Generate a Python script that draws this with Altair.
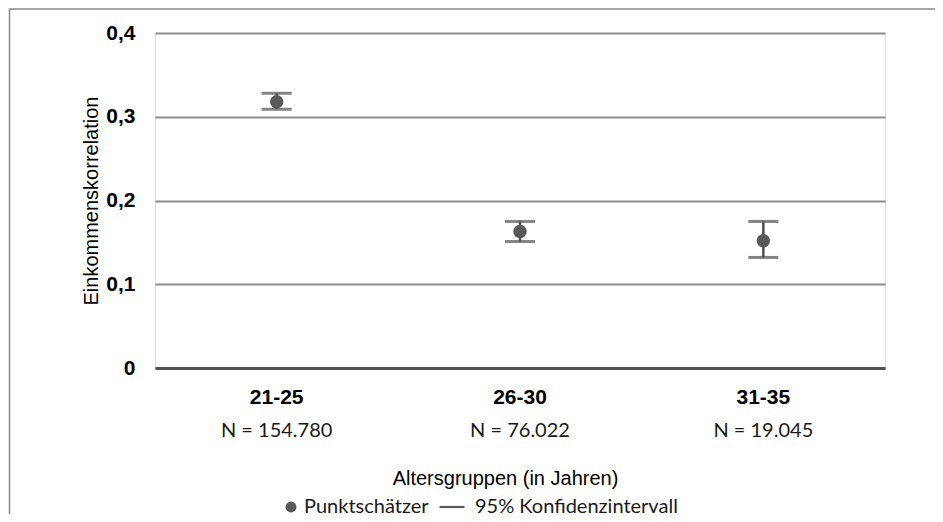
import altair as alt
import pandas as pd

groups = ["21-25", "26-30", "31-35"]
n_labels = ["N = 154.780", "N = 76.022", "N = 19.045"]
estimate = [0.318, 0.163, 0.152]
ci_low = [0.309, 0.151, 0.132]
ci_high = [0.328, 0.175, 0.175]
legend_names = ["Punktschätzer", "95% Konfidenzintervall"]

df = pd.DataFrame({"group": groups, "n": n_labels, "est": estimate,
                   "lo": ci_low, "hi": ci_high,
                   "series": [legend_names[0]] * len(groups)})

FONT = "Lato"
DARK = "#595959"
TXT = "#1a1a1a"
FS = 20

x = alt.X("group:N", sort=groups,
          scale=alt.Scale(paddingInner=0, paddingOuter=0),
          axis=alt.Axis(title="Altersgruppen (in Jahren)", labelAngle=0,
                        labelFontWeight="bold", labelFontSize=21,
                        labelPadding=18, ticks=False, domainColor="#505050",
                        domainWidth=3, titleFontSize=FS,
                        titleFontWeight="normal", titlePadding=61,
                        titleX=350, titleAlign="center"))
yscale = alt.Scale(domain=[0, 0.4], nice=False)
yaxis = alt.Axis(title="Einkommenskorrelation", values=[0, 0.1, 0.2, 0.3, 0.4],
                 labelExpr="datum.value == 0 ? '0' : replace(format(datum.value, '.1f'), '.', ',')",
                 labelFontWeight="bold", labelFontSize=21, labelPadding=20,
                 ticks=False, domain=False, grid=True, gridColor="#8c8c8c",
                 gridWidth=2, titleFontSize=FS, titleFontWeight="normal",
                 titlePadding=4)

base = alt.Chart(df)

rules = base.mark_rule(color="#505050", strokeWidth=2.5).encode(
    x=x, y=alt.Y("lo:Q", scale=yscale, axis=yaxis), y2="hi:Q")
cap_lo = base.mark_tick(color="#505050", size=30, thickness=3).encode(
    x=x, y=alt.Y("lo:Q", scale=yscale, axis=yaxis))
cap_hi = base.mark_tick(color="#505050", size=30, thickness=3).encode(
    x=x, y=alt.Y("hi:Q", scale=yscale, axis=yaxis))
points = base.mark_point(filled=True, opacity=1, color=DARK, size=180).encode(
    x=x, y=alt.Y("est:Q", scale=yscale, axis=yaxis),
    shape=alt.Shape(
        "series:N",
        scale=alt.Scale(domain=legend_names,
                        range=["circle",
                               "M-4.1,-0.2L0.46,-0.2L0.46,0.2L-4.1,0.2Z"]),
        legend=alt.Legend(title=None, orient="none", direction="horizontal",
                          legendX=126, legendY=464, symbolSize=120,
                          symbolFillColor=DARK, symbolStrokeColor=DARK,
                          symbolStrokeWidth=0, labelFontSize=FS,
                          labelOffset=3, columnPadding=10, labelLimit=0,
                          labelFont=FONT, labelColor=TXT)))
ntext = base.mark_text(font=FONT, fontSize=FS, color=TXT,
                       baseline="middle").encode(
    x=x, y=alt.value(398), text="n:N")

frame = alt.Chart(pd.DataFrame({"k": [0]})).mark_rect(
    fill=None, filled=False, stroke="#8a8a8a", strokeWidth=1.5).encode(
    x=alt.value(-145.5), x2=alt.value(830),
    y=alt.value(-24), y2=alt.value(560))

chart = alt.layer(frame, rules, cap_lo, cap_hi, points, ntext).properties(
    width=730, height=335,
    autosize=alt.AutoSizeParams(type="none"),
    padding={"left": 147, "top": 25, "right": 50, "bottom": 146},
).configure_view(stroke=None).configure_axis(
    labelFont=FONT, titleFont=FONT, labelColor=TXT, titleColor=TXT
).configure(background="white")

chart.save("out.html", embed_options={"renderer": "svg", "actions": False})
